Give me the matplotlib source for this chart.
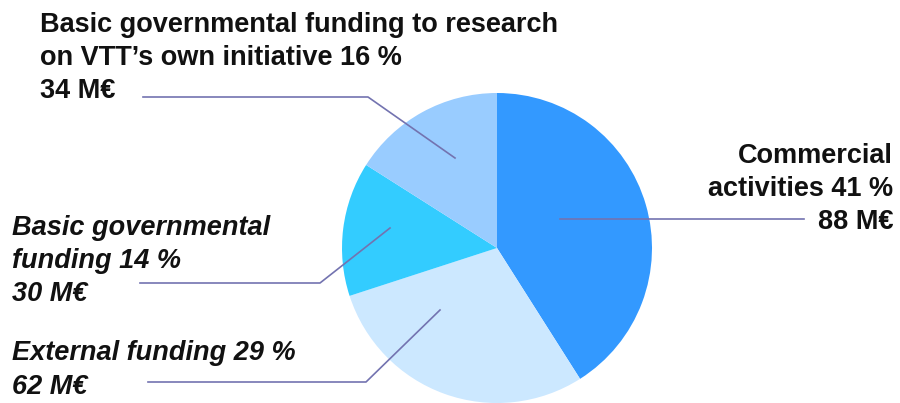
import matplotlib
matplotlib.use('Agg')
import matplotlib.pyplot as plt

# shares of VTT funding, clockwise from 12 o'clock
shares = [41, 29, 14, 16]
amounts = [88, 62, 30, 34]
colors = ['#3399ff', '#cce8ff', '#33ccff', '#99ccff']
labels = ['Commercial\nactivities 41 %\n88 M€',
          'External funding 29 %\n62 M€',
          'Basic governmental\nfunding 14 %\n30 M€',
          'Basic governmental funding to research\non VTT\u2019s own initiative 16 %\n34 M€']

W, H = 900, 403
fig = plt.figure(figsize=(9, 4.03), dpi=100)
ax = fig.add_axes([0, 0, 1, 1])

cx, cy, r = 497, H - 248, 155
ax.pie(shares, colors=colors, startangle=90, counterclock=False,
       center=(cx, cy), radius=r, frame=True,
       wedgeprops=dict(linewidth=0))
ax.set_xlim(0, W)
ax.set_ylim(0, H)
ax.set_aspect('equal')
ax.axis('off')

line_col = '#7373b0'
def leader(pts):
    xs = [p[0] for p in pts]
    ys = [H - p[1] for p in pts]
    ax.plot(xs, ys, color=line_col, lw=1.2)

leader([(560, 219), (804, 219)])
leader([(148, 382), (366, 382), (440, 310)])
leader([(140, 283), (320, 283), (390, 228)])
leader([(143, 97), (368, 97), (455, 158)])

font = dict(family='Liberation Sans', fontsize=19.5, fontweight='bold',
            color='#111111', linespacing=1.37)
ax.text(893, H - 189, labels[0], ha='right', va='center', **font)
ax.text(12, H - 370, labels[1], ha='left', va='center', style='italic', **font)
ax.text(12, H - 261, labels[2], ha='left', va='center', style='italic', **font)
ax.text(40, H - 58, labels[3], ha='left', va='center', **font)

fig.savefig('out.png', dpi=100)
